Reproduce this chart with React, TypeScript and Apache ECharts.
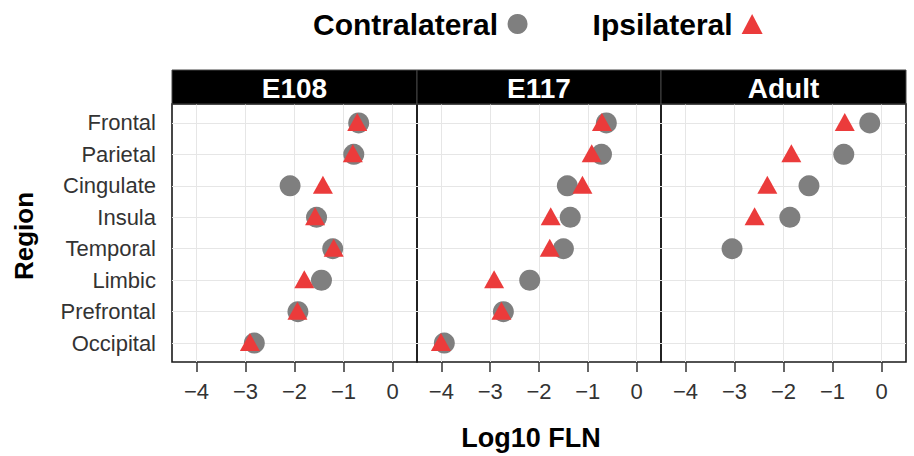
import React, { useEffect, useRef } from 'react';
import * as echarts from 'echarts';

const regions = ['Frontal', 'Parietal', 'Cingulate', 'Insula', 'Temporal', 'Limbic', 'Prefrontal', 'Occipital'];
const panelNames = ['E108', 'E117', 'Adult'];
const xTicks = [-4, -3, -2, -1, 0];

const e108Contra = [-0.69, -0.79, -2.09, -1.55, -1.22, -1.45, -1.93, -2.82];
const e108Ipsi = [-0.72, -0.81, -1.42, -1.58, -1.2, -1.8, -1.94, -2.91];
const e117Contra = [-0.62, -0.72, -1.42, -1.36, -1.5, -2.19, -2.73, -3.94];
const e117Ipsi = [-0.71, -0.92, -1.11, -1.76, -1.78, -2.92, -2.77, -4.01];
const adultContra: (number | null)[] = [-0.24, -0.77, -1.48, -1.87, -3.05, null, null, null];
const adultIpsi: (number | null)[] = [-0.75, -1.84, -2.33, -2.59, null, null, null, null];

const contraByPanel = [e108Contra, e117Contra, adultContra];
const ipsiByPanel = [e108Ipsi, e117Ipsi, adultIpsi];

const FONT = "'Liberation Sans', Arial, Helvetica, sans-serif";
const GREY = '#7f7f7f';
const RED = '#EB3B3B';

export default function App() {
  const ref = useRef<HTMLDivElement>(null);
  useEffect(() => {
    const chart = echarts.init(ref.current!, null, { renderer: 'svg' });
    const gridDefs = [
      { left: 172, width: 245 },
      { left: 417, width: 244 },
      { left: 661, width: 245 },
    ];
    const top = 104;
    const height = 258;
    const yVals = regions.map((_, i) => i + 1);

    const toData = (arr: (number | null)[]) =>
      arr.map((v, i) => (v == null ? null : [v, i + 1])).filter((d) => d !== null);

    const grids = gridDefs.map((g) => ({
      left: g.left,
      width: g.width,
      top,
      height,
      show: true,
      borderColor: '#1a1a1a',
      borderWidth: 1.6,
      backgroundColor: 'transparent',
    }));

    const xAxes = gridDefs.map((_, i) => ({
      type: 'value',
      gridIndex: i,
      min: -4.5,
      max: 0.5,
      axisLine: { show: false },
      axisTick: { show: true, length: 10, customValues: xTicks, lineStyle: { color: '#333', width: 1.5 } },
      axisLabel: {
        customValues: xTicks,
        formatter: (v: number) => (v < 0 ? '\u2212' + Math.abs(v) : String(v)),
        fontSize: 22,
        color: '#333',
        margin: 18,
        fontFamily: FONT,
      },
      splitLine: { show: true, lineStyle: { color: '#e6e6e6', width: 1 } },
    }));

    const yAxes = gridDefs.map((_, i) => ({
      type: 'value',
      gridIndex: i,
      min: 0.4,
      max: 8.6,
      inverse: true,
      axisLine: { show: false },
      axisTick: { show: false, customValues: yVals },
      axisLabel: {
        show: i === 0,
        customValues: yVals,
        formatter: (v: number) => regions[Math.round(v) - 1] ?? '',
        fontSize: 22,
        color: '#333',
        margin: 16,
        fontFamily: FONT,
      },
      splitLine: { show: true, lineStyle: { color: '#e6e6e6', width: 1 } },
    }));

    const series: any[] = [];
    gridDefs.forEach((_, i) => {
      series.push({
        name: 'Contralateral',
        type: 'scatter',
        xAxisIndex: i,
        yAxisIndex: i,
        symbol: 'circle',
        symbolSize: 21,
        itemStyle: { color: GREY, opacity: 1 },
        data: toData(contraByPanel[i]),
        z: 2,
      });
      series.push({
        name: 'Ipsilateral',
        type: 'scatter',
        xAxisIndex: i,
        yAxisIndex: i,
        symbol: 'triangle',
        symbolSize: [20, 18],
        symbolOffset: [0, -1],
        itemStyle: { color: RED, opacity: 1 },
        data: toData(ipsiByPanel[i]),
        z: 3,
      });
    });

    const graphics: any[] = [];
    gridDefs.forEach((g, i) => {
      graphics.push({
        type: 'rect',
        shape: { x: g.left, y: 70, width: g.width, height: 34 },
        style: { fill: '#000', stroke: '#444', lineWidth: 1 },
        z: 10,
      });
      graphics.push({
        type: 'text',
        x: g.left + g.width / 2,
        y: 88,
        style: {
          text: panelNames[i],
          fill: '#fff',
          font: `bold 28px ${FONT}`,
          textAlign: 'center',
          textVerticalAlign: 'middle',
          align: 'center',
          verticalAlign: 'middle',
        },
        z: 11,
      });
    });
    graphics.push({
      type: 'text',
      x: 531,
      y: 438,
      style: {
        text: 'Log10 FLN',
        fill: '#000',
        font: `bold 27px ${FONT}`,
        textAlign: 'center',
        textVerticalAlign: 'middle',
        align: 'center',
        verticalAlign: 'middle',
      },
    });
    graphics.push({
      type: 'text',
      x: 24,
      y: 236,
      rotation: Math.PI / 2,
      style: {
        text: 'Region',
        fill: '#000',
        font: `bold 26px ${FONT}`,
        textAlign: 'center',
        textVerticalAlign: 'middle',
        align: 'center',
        verticalAlign: 'middle',
      },
    });

    chart.setOption({
      animation: false,
      backgroundColor: '#fff',
      legend: {
        left: 308,
        top: 4,
        align: 'right',
        itemGap: 65,
        itemWidth: 21,
        itemHeight: 20,
        textStyle: { fontSize: 30, fontWeight: 'bold', color: '#000', fontFamily: FONT, padding: [0, 4, 0, 0] },
        data: [
          { name: 'Contralateral', icon: 'circle' },
          { name: 'Ipsilateral', icon: 'triangle' },
        ],
      },
      grid: grids,
      xAxis: xAxes,
      yAxis: yAxes,
      series,
      graphic: { elements: graphics },
    });
    return () => chart.dispose();
  }, []);
  return <div ref={ref} style={{ position: 'fixed', left: 0, top: 0, width: 914, height: 456 }} />;
}
